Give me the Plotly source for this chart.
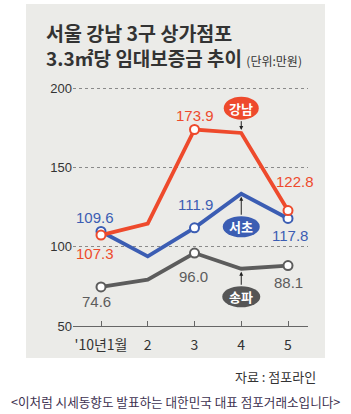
import plotly.graph_objects as go

months = ["'10년1월", "2", "3", "4", "5"]
x_idx = [1, 2, 3, 4, 5]
gangnam = [107.3, 114.5, 173.9, 171.7, 122.8]
seocho = [109.6, 93.9, 111.9, 133.4, 117.8]
songpa = [74.6, 79.2, 96.0, 86.1, 88.1]
y_ticks = [50, 100, 150, 200]
series_names = ["송파", "서초", "강남"]

RED = "#ee4a2c"
BLUE = "#3b5db3"
GRAY = "#5c5c5c"
PANEL = "#ebebe8"
KFONT = "Noto Sans CJK KR"
NFONT = "Liberation Sans, Arial, sans-serif"

W, H = 351, 414
L, R, T, B = 73, 43, 72, 88
PW, PH = W - L - R, H - T - B

def px(x):
    return (x - L) / PW

def py(y):
    return (H - B - y) / PH

fig = go.Figure()

marker_op = [1, 0, 1, 0, 1]
for name, vals, col in [("송파", songpa, GRAY), ("서초", seocho, BLUE), ("강남", gangnam, RED)]:
    fig.add_trace(go.Scatter(
        x=x_idx, y=vals, mode="lines+markers", name=name,
        line=dict(color=col, width=3.8),
        marker=dict(size=9, color="white", opacity=marker_op,
                    line=dict(color=col, width=2)),
        hoverinfo="skip", showlegend=False,
    ))

shapes = []
shapes.append(dict(type="rect", xref="paper", yref="paper",
                   x0=px(26), x1=px(325), y0=py(358), y1=py(4),
                   fillcolor=PANEL, line=dict(width=0), layer="below"))

annotations = []

label_specs = [
    (seocho, 0, BLUE, -6, 13.5),
    (gangnam, 0, RED, -6, -18),
    (songpa, 0, GRAY, -5, -15),
    (gangnam, 2, RED, 0, 13.5),
    (seocho, 2, BLUE, 1, 23),
    (songpa, 2, GRAY, -1, -23),
    (gangnam, 4, RED, 7, 29.5),
    (seocho, 4, BLUE, 2, -17.5),
    (songpa, 4, GRAY, 0, -17),
]
for vals, i, col, dx, dy in label_specs:
    annotations.append(dict(
        x=x_idx[i], y=vals[i], xref="x", yref="y",
        text=f"{vals[i]:.1f}", showarrow=False,
        xshift=dx, yshift=dy,
        font=dict(family=NFONT, size=15, color=col),
    ))

badge_specs = [
    ("강남", gangnam, RED, 24.8, 17.5, 11.5),
    ("서초", seocho, BLUE, -33, 18.5, 10.5),
    ("송파", songpa, "#555555", -28, 19, 10.5),
]
for text, vals, col, off, hw, hh in badge_specs:
    yv = vals[3]
    shapes.append(dict(type="circle", xref="x", yref="y",
                       xsizemode="pixel", ysizemode="pixel",
                       xanchor=4, yanchor=yv,
                       x0=-hw, x1=hw, y0=off - hh, y1=off + hh,
                       fillcolor=col, line=dict(width=0)))
    annotations.append(dict(
        x=4, y=yv, xref="x", yref="y", text=f"<b>{text}</b>",
        showarrow=False, yshift=off, xshift=0,
        font=dict(family=KFONT, size=13, color="white"),
    ))
    if off > 0:
        tail = -(off - hh)
    else:
        tail = -off - hh
    annotations.append(dict(
        x=4, y=yv, xref="x", yref="y", text="",
        showarrow=True, ax=0, ay=tail, axref="pixel", ayref="pixel",
        arrowhead=2, arrowsize=0.8, arrowwidth=1, arrowcolor="#222222",
        standoff=3,
    ))

# title (two lines in one text)
annotations.append(dict(
    xref="paper", yref="paper", x=px(44), y=py(45), xanchor="left", yanchor="middle",
    align="left",
    text=("<b><span style='font-size:19.5px'>서울 강남 3구 상가점포</span></b><br>"
          "<b>3.3㎡당 임대보증금 추이</b> <span style='font-size:12px'>(단위:만원)</span>"),
    showarrow=False,
    font=dict(family=KFONT, size=19, color="#333333"),
))
annotations.append(dict(
    xref="paper", yref="paper", x=px(318), y=py(376), xanchor="right", yanchor="middle",
    text="자료 : 점포라인", showarrow=False,
    font=dict(family=KFONT, size=13, color="#333333"),
))
annotations.append(dict(
    xref="paper", yref="paper", x=px(175), y=py(401), xanchor="center", yanchor="middle",
    text="<이처럼 시세동향도 발표하는 대한민국 대표 점포거래소입니다>", showarrow=False,
    font=dict(family=KFONT, size=12.6, color="#3d3150"),
))

fig.update_layout(
    width=W, height=H,
    margin=dict(l=L, r=R, t=T, b=B),
    paper_bgcolor="white", plot_bgcolor="rgba(0,0,0,0)",
    shapes=shapes, annotations=annotations,
    xaxis=dict(
        range=[1 - 28 / 46.75, 5 + 20 / 46.75],
        tickvals=x_idx, ticktext=months,
        showgrid=False, zeroline=False,
        showline=True, linecolor="#666666", linewidth=1,
        ticks="inside", ticklen=5, tickcolor="#666666",
        ticklabelstandoff=6,
        tickfont=dict(family=KFONT, size=14, color="#333333"),
        fixedrange=True,
    ),
    yaxis=dict(
        range=[50, 50 + PH / 1.586],
        tickvals=y_ticks, ticktext=[str(v) for v in y_ticks],
        showgrid=True, gridcolor="#8a8a8a", griddash="dot", gridwidth=1,
        zeroline=False, showline=False, ticks="",
        tickfont=dict(family=NFONT, size=13, color="#333333"),
        fixedrange=True,
    ),
)

fig.write_html("out.html")
